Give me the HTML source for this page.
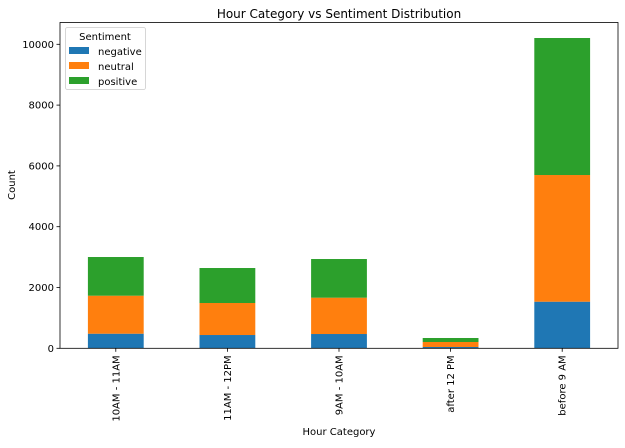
<!DOCTYPE html>
<html><head><meta charset="utf-8"><style>
body{margin:0;background:#fff;}
svg{font-family:"DejaVu Sans","Liberation Sans",sans-serif;}
</style></head><body>
<svg id="chart" width="625" height="443" viewBox="0 0 625 443">
<text x="339" y="18" text-anchor="middle" font-size="12" fill="#000">Hour Category vs Sentiment Distribution</text>
<g id="bars"></g>
<g id="yticks"></g>
<g id="xticks"></g>
<rect x="60" y="22.5" width="558" height="325.8" fill="none" stroke="#000" stroke-width="0.8"/>
<text x="15" y="185" font-size="10" text-anchor="middle" transform="rotate(-90 15 185)">Count</text>
<text x="339" y="435" font-size="10" text-anchor="middle">Hour Category</text>
<g>
<rect x="65.5" y="27.5" width="80" height="62" rx="2" fill="#fff" stroke="#ccc" stroke-width="0.8"/>
<text x="105" y="40" font-size="10" text-anchor="middle">Sentiment</text>
<rect x="69" y="47" width="20" height="7" fill="#1f77b4"/>
<text x="98" y="55" font-size="10">negative</text>
<rect x="69" y="62" width="20" height="7" fill="#ff7f0e"/>
<text x="98" y="70" font-size="10">neutral</text>
<rect x="69" y="77" width="20" height="7" fill="#2ca02c"/>
<text x="98" y="85" font-size="10">positive</text>
</g>
</svg>
<script>
const categories = ["10AM - 11AM","11AM - 12PM","9AM - 10AM","after 12 PM","before 9 AM"];
const negative = [480,437,470,43,1533];
const neutral = [1250,1053,1195,164,4167];
const positive = [1273,1151,1272,132,4507];
const yTicks = [0,2000,4000,6000,8000,10000];
const seriesColors = ["#1f77b4","#ff7f0e","#2ca02c"];
const seriesNames = ["negative","neutral","positive"];

const NS="http://www.w3.org/2000/svg";
const L=60,R=618,B=348.3,PX=0.0304;
const step=(R-L)/categories.length;
const xc=i=>L+step*(i+0.5);
const y=v=>B-v*PX;
const bars=document.getElementById('bars');
const series=[negative,neutral,positive];
categories.forEach((c,i)=>{
  let base=0;
  series.forEach((s,k)=>{
    const r=document.createElementNS(NS,'rect');
    r.setAttribute('x',xc(i)-step*0.25);
    r.setAttribute('width',step*0.5);
    r.setAttribute('y',y(base+s[i]));
    r.setAttribute('height',s[i]*PX);
    r.setAttribute('fill',seriesColors[k]);
    
    
    bars.appendChild(r);
    base+=s[i];
  });
});
const yt=document.getElementById('yticks');
yTicks.forEach(v=>{
  const l=document.createElementNS(NS,'line');
  l.setAttribute('x1',L-3.5);l.setAttribute('x2',L);
  l.setAttribute('y1',y(v));l.setAttribute('y2',y(v));
  l.setAttribute('stroke','#000');l.setAttribute('stroke-width','0.8');
  
  
  yt.appendChild(l);
  const t=document.createElementNS(NS,'text');
  t.setAttribute('x',L-6);t.setAttribute('y',y(v)+3.5);
  t.setAttribute('text-anchor','end');t.setAttribute('font-size','10');
  t.textContent=v;
  
  
  yt.appendChild(t);
});
const xt=document.getElementById('xticks');
categories.forEach((c,i)=>{
  const l=document.createElementNS(NS,'line');
  l.setAttribute('x1',xc(i));l.setAttribute('x2',xc(i));
  l.setAttribute('y1',B);l.setAttribute('y2',B+3.5);
  l.setAttribute('stroke','#000');l.setAttribute('stroke-width','0.8');
  
  
  xt.appendChild(l);
  const t=document.createElementNS(NS,'text');
  const tx=xc(i)+3.5,ty=B+7;
  t.setAttribute('x',tx);t.setAttribute('y',ty);
  t.setAttribute('text-anchor','end');t.setAttribute('font-size','10');
  t.setAttribute('transform','rotate(-90 '+tx+' '+ty+')');
  t.textContent=c;
  
  
  xt.appendChild(t);
});
</script>
</body></html>
